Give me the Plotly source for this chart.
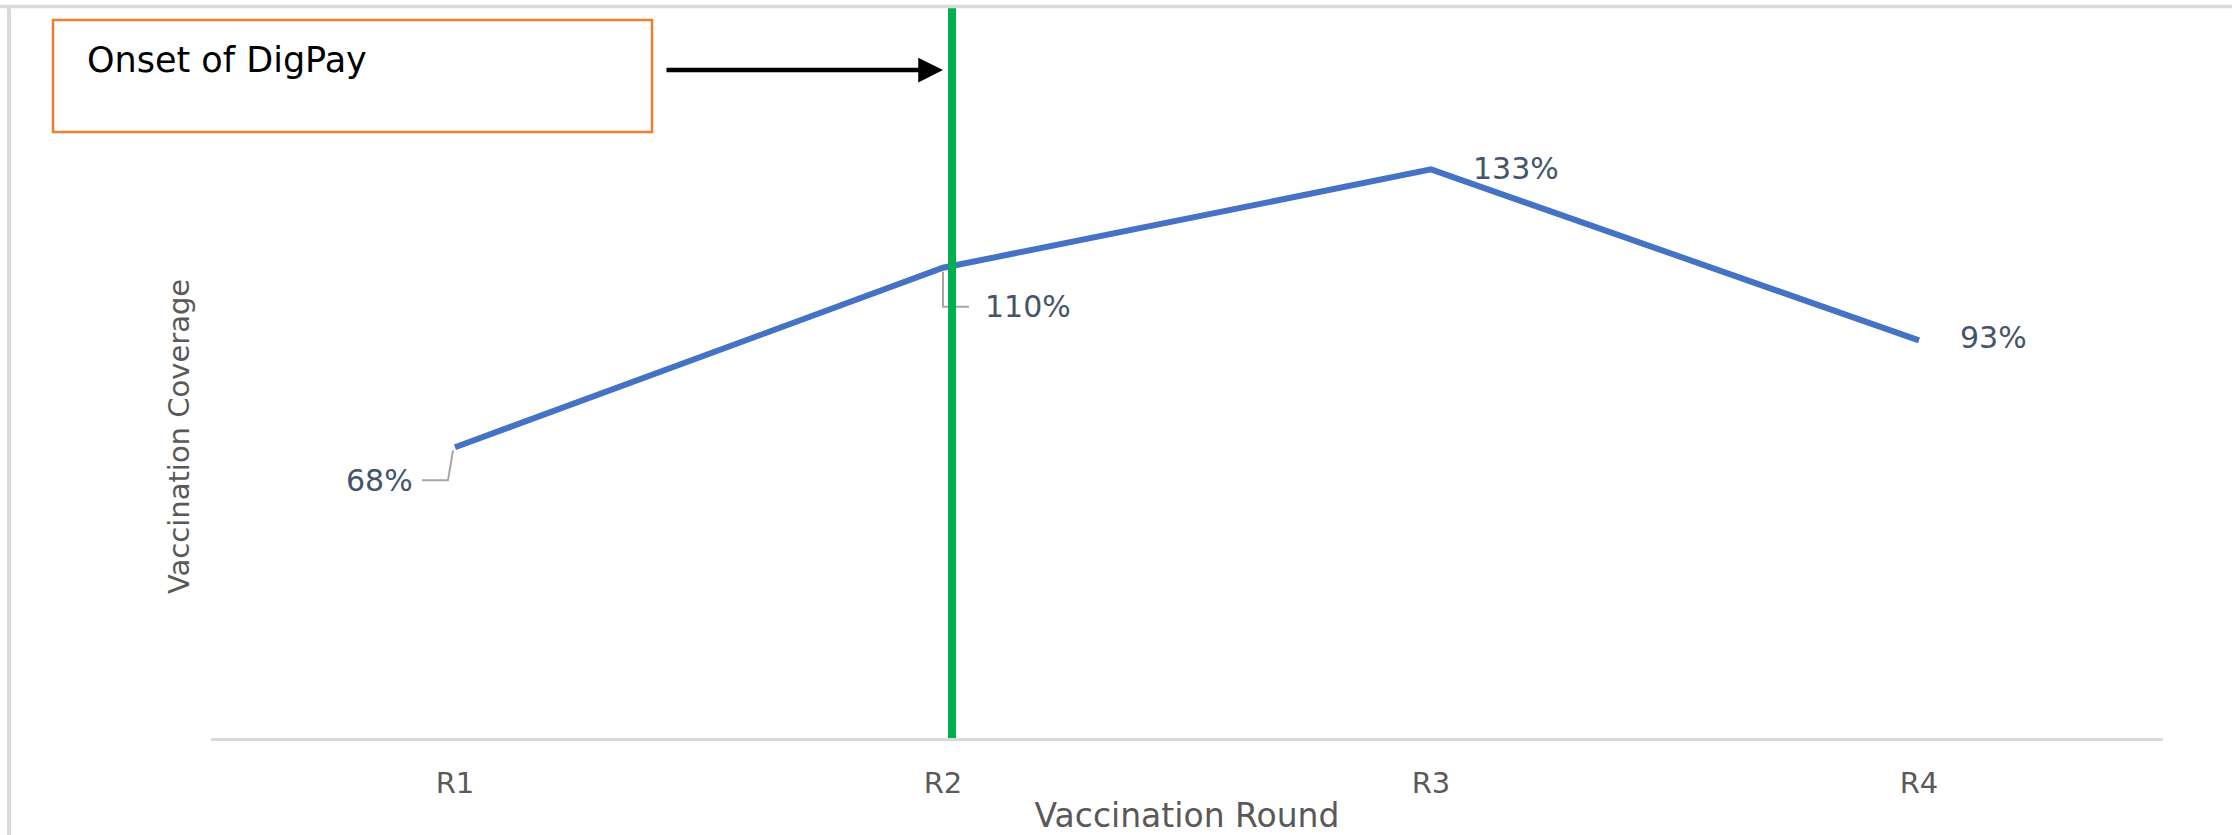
import plotly.graph_objects as go

# ---- data ----
rounds = ["R1", "R2", "R3", "R4"]
coverage = [68, 110, 133, 93]
label_texts = ["68%", "110%", "133%", "93%"]
onset_round = "R2"
onset_text = "Onset of DigPay"
x_title = "Vaccination Round"
y_title = "Vaccination Coverage"

# ---- styles ----
FONT = "DejaVu Sans"
GRAY = "#595959"
LABEL_COLOR = "#44546A"
LINE_BLUE = "#4472C4"
GREEN = "#00B050"
ORANGE = "#ED7D31"
BORDER = "#D9D9D9"

W, H = 2232, 835
ML, MR, MT, MB = 211, 69, 54, 97
plot_w = W - ML - MR
plot_h = H - MT - MB

def px_x(p):
    return (p - ML) / plot_w

def px_y(p):
    return (H - MB - p) / plot_h

# label placement (pixel shifts relative to the point) and leader paths
label_style = [
    dict(xanchor="right", xshift=-40, yshift=-33,
         leader="M -2,-3 L -7,-33 L -33,-33"),
    dict(xanchor="left", xshift=40, yshift=-39,
         leader="M 0,-4 L 0,-39 L 26,-39"),
    dict(xanchor="left", xshift=40, yshift=1, leader=None),
    dict(xanchor="left", xshift=39, yshift=3, leader=None),
]

fig = go.Figure()
fig.add_trace(go.Scatter(
    x=rounds, y=coverage, mode="lines",
    line=dict(color=LINE_BLUE, width=6),
    hoverinfo="x+y", showlegend=False,
))

annotations = []
shapes = []

for r, v, t, s in zip(rounds, coverage, label_texts, label_style):
    annotations.append(dict(
        x=r, y=v, xref="x", yref="y", text=t, showarrow=False,
        xanchor=s["xanchor"], yanchor="middle",
        xshift=s["xshift"], yshift=s["yshift"],
        font=dict(family=FONT, size=30, color=LABEL_COLOR),
    ))
    if s["leader"]:
        shapes.append(dict(
            type="path", xref="x", yref="y",
            xsizemode="pixel", ysizemode="pixel",
            xanchor=r, yanchor=v, path=s["leader"],
            line=dict(color="#A6A6A6", width=2), layer="above",
        ))

# green onset line
shapes.append(dict(
    type="line", xref="x", yref="paper",
    xsizemode="pixel", xanchor=onset_round, x0=9, x1=9,
    y0=0, y1=px_y(5),
    line=dict(color=GREEN, width=8), layer="above",
))

# outer chart border (top and left visible)
shapes.append(dict(type="line", xref="paper", yref="paper",
                   x0=px_x(0), x1=px_x(W), y0=px_y(6.5), y1=px_y(6.5),
                   line=dict(color=BORDER, width=3.5)))
shapes.append(dict(type="line", xref="paper", yref="paper",
                   x0=px_x(9), x1=px_x(9), y0=px_y(6.5), y1=px_y(H),
                   line=dict(color=BORDER, width=4)))

# onset text box
shapes.append(dict(type="rect", xref="paper", yref="paper",
                   x0=px_x(53), x1=px_x(652), y0=px_y(132), y1=px_y(20),
                   line=dict(color=ORANGE, width=2.5),
                   fillcolor="white"))
annotations.append(dict(
    x=px_x(85), y=px_y(60), xref="paper", yref="paper",
    text=onset_text, showarrow=False, xanchor="left", yanchor="middle",
    font=dict(family=FONT, size=35, color="black"),
))

# arrow pointing to the onset line
annotations.append(dict(
    x=onset_round, y=px_y(70), xref="x", yref="paper",
    text="", showarrow=True, ax=-278, ay=0,
    arrowhead=2, arrowsize=1.1, arrowwidth=4.5, arrowcolor="black",
    standoff=0,
))

# y-axis title
annotations.append(dict(
    x=px_x(179), y=px_y(437), xref="paper", yref="paper",
    text=y_title, showarrow=False, textangle=-90,
    xanchor="center", yanchor="middle",
    font=dict(family=FONT, size=29, color=GRAY),
))

fig.update_layout(
    width=W, height=H,
    margin=dict(l=ML, r=MR, t=MT, b=MB),
    paper_bgcolor="white", plot_bgcolor="white",
    annotations=annotations, shapes=shapes,
    xaxis=dict(
        type="category", categoryorder="array", categoryarray=rounds,
        range=[-0.5, 3.5], showgrid=False, zeroline=False,
        showline=True, linecolor=BORDER, linewidth=3,
        ticks="", ticklabelstandoff=17, automargin=False,
        tickfont=dict(family=FONT, size=29, color=GRAY),
        title=dict(text=x_title, standoff=9,
                   font=dict(family=FONT, size=33, color=GRAY)),
    ),
    yaxis=dict(
        range=[0, 160], showgrid=False, zeroline=False,
        showline=False, showticklabels=False, ticks="",
    ),
)

fig.write_html(
    "out.html",
    config={"displayModeBar": False},
    post_script="document.body.style.margin='0';document.body.style.overflow='hidden';",
)
